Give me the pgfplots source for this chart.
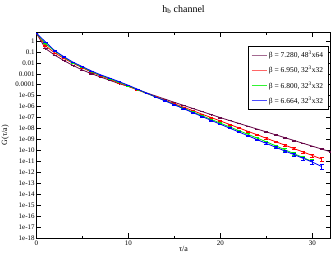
\documentclass[border=0pt]{standalone}
\usepackage{fontspec}
\setmainfont{Liberation Serif}
\usepackage{pgfplots}
\usepackage{pgfplotstable}
\pgfplotsset{compat=1.18}
\definecolor{cmaroon}{RGB}{103,7,72}
\definecolor{cred}{RGB}{255,0,0}
\definecolor{cgreen}{RGB}{0,240,0}
\definecolor{cblue}{RGB}{0,0,255}

\pgfplotstableread{
t G e
0 5.012 0.02
1 1.995e-1 0.02
2 5.012e-2 0.02
3 1.585e-2 0.02
4 5.623e-3 0.02
5 2.239e-3 0.02
6 1.000e-3 0.02
7 5.012e-4 0.02
8 2.512e-4 0.02
9 1.259e-4 0.02
10 7.079e-5 0.02
11 3.548e-5 0.02
12 1.778e-5 0.02
13 9.333e-6 0.02
14 4.786e-6 0.02
15 2.512e-6 0.02
16 1.318e-6 0.02
17 6.918e-7 0.02
18 3.631e-7 0.02
19 1.905e-7 0.02
20 1.000e-7 0.03
21 5.495e-8 0.04
22 3.020e-8 0.04
23 1.660e-8 0.05
24 9.120e-9 0.05
25 5.012e-9 0.05
26 2.754e-9 0.06
27 1.514e-9 0.06
28 8.318e-10 0.07
29 4.571e-10 0.08
30 2.512e-10 0.08
31 1.380e-10 0.09
32 7.586e-11 0.10
}\tabA

\pgfplotstableread{
t G e
0 5.012 0.02
1 3.548e-1 0.02
2 7.943e-2 0.02
3 2.512e-2 0.02
4 8.913e-3 0.02
5 3.548e-3 0.02
6 1.413e-3 0.02
7 6.310e-4 0.02
8 3.162e-4 0.02
9 1.413e-4 0.02
10 7.079e-5 0.02
11 3.388e-5 0.02
12 1.622e-5 0.02
13 7.943e-6 0.02
14 3.802e-6 0.02
15 1.862e-6 0.04
16 8.913e-7 0.05
17 4.365e-7 0.05
18 2.089e-7 0.06
19 1.023e-7 0.07
20 5.012e-8 0.08
21 2.399e-8 0.09
22 1.175e-8 0.10
23 5.623e-9 0.11
24 2.754e-9 0.12
25 1.318e-9 0.14
26 6.457e-10 0.16
27 3.162e-10 0.18
28 1.514e-10 0.22
29 7.413e-11 0.26
30 3.548e-11 0.30
31 1.698e-11 0.35
}\tabB

\pgfplotstableread{
t G e
0 5.012 0.02
1 5.623e-1 0.02
2 1.122e-1 0.02
3 3.162e-2 0.02
4 1.000e-2 0.02
5 3.981e-3 0.02
6 1.585e-3 0.02
7 7.079e-4 0.02
8 3.548e-4 0.02
9 1.660e-4 0.02
10 7.943e-5 0.02
11 3.631e-5 0.02
12 1.660e-5 0.02
13 7.586e-6 0.02
14 3.467e-6 0.03
15 1.585e-6 0.04
16 7.244e-7 0.05
17 3.311e-7 0.06
18 1.514e-7 0.07
19 6.918e-8 0.08
20 3.162e-8 0.09
21 1.445e-8 0.10
22 6.607e-9 0.12
23 3.020e-9 0.14
24 1.380e-9 0.16
25 6.310e-10 0.18
26 2.754e-10 0.22
27 1.202e-10 0.26
28 5.248e-11 0.30
29 2.291e-11 0.38
30 1.000e-11 0.45
}\tabC

\pgfplotstableread{
t G e
0 5.012 0.02
1 7.943e-1 0.02
2 1.259e-1 0.02
3 3.548e-2 0.02
4 1.122e-2 0.02
5 4.467e-3 0.02
6 1.778e-3 0.02
7 7.943e-4 0.02
8 3.981e-4 0.02
9 1.905e-4 0.02
10 8.913e-5 0.02
11 3.890e-5 0.02
12 1.738e-5 0.02
13 7.586e-6 0.02
14 3.388e-6 0.03
15 1.479e-6 0.04
16 6.607e-7 0.05
17 2.884e-7 0.06
18 1.288e-7 0.07
19 5.623e-8 0.08
20 2.512e-8 0.09
21 1.122e-8 0.10
22 5.012e-9 0.12
23 2.239e-9 0.14
24 1.000e-9 0.16
25 4.467e-10 0.18
26 2.042e-10 0.22
27 9.333e-11 0.26
28 4.266e-11 0.30
29 1.950e-11 0.36
30 8.913e-12 0.42
31 3.548e-12 0.48
}\tabD

\begin{document}
\begin{tikzpicture}
\begin{axis}[
  scale only axis,
  width=294.4bp, height=206bp,
  ymode=log,
  xmin=0, xmax=32,
  ymin=1e-18, ymax=6,
  axis line style={line width=0.7pt},
  xtick={0,10,20,30},
  xticklabels={0,10,20,30},
  minor xtick={5,15,25},
  ytick={1,0.1,0.01,0.001,0.0001,1e-5,1e-6,1e-7,1e-8,1e-9,1e-10,1e-11,1e-12,1e-13,1e-14,1e-15,1e-16,1e-17,1e-18},
  yticklabels={1,0.1,0.01,0.001,0.0001,1e-05,1e-06,1e-07,1e-08,1e-09,1e-10,1e-11,1e-12,1e-13,1e-14,1e-15,1e-16,1e-17,1e-18},
  tick align=inside,
  major tick length=5bp,
  minor tick length=2.5bp,
  tick style={black, line width=0.5pt},
  ticklabel style={font=\fontsize{7}{8}\selectfont},
  yticklabel style={inner sep=1.5bp},
  xticklabel style={inner sep=2bp},
  title={h\textsubscript{b} channel},
  title style={font=\fontsize{10}{11}\selectfont, at={(axis description cs:0.5,1.082)}, anchor=center},
  xlabel={τ/a},
  xlabel style={font=\fontsize{8}{9}\selectfont, at={(axis description cs:0.5,-0.052)}, anchor=center},
  ylabel={G(τ/a)},
  ylabel style={font=\fontsize{8}{9}\selectfont, at={(axis description cs:-0.1053,0.5)}, anchor=center},
  legend style={at={(rel axis cs:0.9918,0.9335)}, anchor=north east,
    font=\fontsize{7.5}{8.5}\selectfont, draw=black, line width=0.5pt,
    row sep=3.2bp, inner xsep=3bp, inner ysep=3bp, cells={anchor=west}},
  legend cell align=left,
  legend image code/.code={\draw[#1] (0bp,0bp) -- (15bp,0bp);},
]
\addlegendimage{draw=cmaroon!60, line width=0.7pt}
\addlegendentry{β = 7.280, 48\textsuperscript{3}x64}
\addlegendimage{draw=cred!60, line width=0.7pt}
\addlegendentry{β = 6.950, 32\textsuperscript{3}x32}
\addlegendimage{draw=cgreen!80, line width=0.7pt}
\addlegendentry{β = 6.800, 32\textsuperscript{3}x32}
\addlegendimage{draw=cblue!70, line width=0.7pt}
\addlegendentry{β = 6.664, 32\textsuperscript{3}x32}
\addplot[cmaroon, line width=0.8pt, mark=none, forget plot,
  error bars/.cd, y dir=both, y explicit relative,
  error bar style={draw=cmaroon, line width=0.5pt},
  error mark options={rotate=90, mark size=2bp, line width=0.5pt, draw=cmaroon}]
  table[x=t, y=G, y error=e] {\tabA};
\addplot[cred, line width=0.8pt, mark=none, forget plot,
  error bars/.cd, y dir=both, y explicit relative,
  error bar style={draw=cred, line width=0.5pt},
  error mark options={rotate=90, mark size=2bp, line width=0.5pt, draw=cred}]
  table[x=t, y=G, y error=e] {\tabB};
\addplot[cgreen, line width=0.8pt, mark=none, forget plot,
  error bars/.cd, y dir=both, y explicit relative,
  error bar style={draw=cgreen, line width=0.5pt},
  error mark options={rotate=90, mark size=2bp, line width=0.5pt, draw=cgreen}]
  table[x=t, y=G, y error=e] {\tabC};
\addplot[cblue, line width=0.8pt, mark=none, forget plot,
  error bars/.cd, y dir=both, y explicit relative,
  error bar style={draw=cblue, line width=0.5pt},
  error mark options={rotate=90, mark size=2bp, line width=0.5pt, draw=cblue}]
  table[x=t, y=G, y error=e] {\tabD};
\end{axis}
\pgfresetboundingbox
\useasboundingbox (-36.3bp,-18.7bp) rectangle (295.7bp,238.3bp);
\end{tikzpicture}
\end{document}
